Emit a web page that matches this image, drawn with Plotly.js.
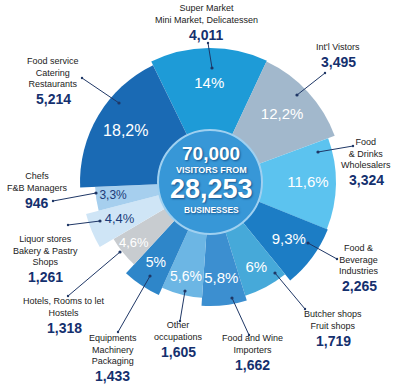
<!DOCTYPE html>
<html>
<head>
<meta charset="utf-8">
<script src="https://cdn.plot.ly/plotly-3.0.1.min.js"></script>
<style>html,body{margin:0;padding:0;background:#fff;}#chart{width:400px;height:392px;}</style>
</head>
<body>
<div id="chart"></div>
<script>
// ---- data (clockwise, starting at the Super Market slice) ----
var categories = ["Super Market<br>Mini Market, Delicatessen", "Int'l Vistors", "Food<br>& Drinks<br>Wholesalers",
  "Food &<br>Beverage<br>Industries", "Butcher shops<br>Fruit shops", "Food and Wine<br>Importers",
  "Other<br>occupations", "Equipments<br>Machinery<br>Packaging", "Hotels, Rooms to let<br>Hostels",
  "Liquor stores<br>Bakery & Pastry<br>Shops", "Chefs<br>F&B Managers", "Food service<br>Catering<br>Restaurants"];
var visitors = [4011, 3495, 3324, 2265, 1719, 1662, 1605, 1433, 1318, 1261, 946, 5214];
var visitorLabels = ["4,011", "3,495", "3,324", "2,265", "1,719", "1,662", "1,605", "1,433", "1,318", "1,261", "946", "5,214"];
var pctLabels = ["14%", "12,2%", "11,6%", "9,3%", "6%", "5,8%", "5,6%", "5%", "4,6%", "4,4%", "3,3%", "18,2%"];
var sliceRadius = [134, 133, 126, 127, 119, 124, 116, 124, 112, 128, 115, 130];
var centerTexts = ["70,000", "VISITORS FROM", "28,253", "BUSINESSES"];

// ---- styles ----
var colors = ["#1e9bd7", "#a2b8cc", "#5cc3ef", "#1c7dc5", "#46a9d9", "#3c8fd0", "#6cb6e4", "#2e86c9",
  "#c8ccd0", "#cfe5f6", "#a6cfee", "#1a6ab4"];
var pctColors = ["#fff","#fff","#fff","#fff","#fff","#fff","#fff","#fff","#fff","#1b3c7a","#1b3c7a","#fff"];
var pctSizes = [15, 15, 15, 15, 15, 15, 14, 14, 13, 13, 12, 16];
var NAVY = "#14306e";
var W = 400, H = 392;

var total = visitors.reduce(function (a, b) { return a + b; }, 0);
var widths = visitors.map(function (v) { return v / total * 360; });
var thetas = [], acc = 0;
widths.forEach(function (w) { thetas.push(acc + w / 2); acc += w; });

var traces = [];
traces.push({
  type: "barpolar", r: sliceRadius, theta: thetas, width: widths, base: 0,
  marker: { color: colors, line: { width: 0 } }, hoverinfo: "skip", showlegend: false
});
traces.push({
  type: "barpolar", r: [52], theta: [0], width: [360], base: 0,
  marker: { color: "#3797d7", line: { color: "#9fd0f0", width: 2 } }, hoverinfo: "skip", showlegend: false
});
traces.push({
  type: "scatterpolar", mode: "text", r: thetas.map(function () { return 98; }), theta: thetas,
  text: pctLabels, textposition: "middle center",
  textfont: { family: "Liberation Sans, Arial, sans-serif", size: pctSizes, color: pctColors },
  hoverinfo: "skip", showlegend: false
});

// label layout (pixel positions): name block x, number center y, leader line [x0,y0,x1,y1]
var labelPos = [
  { nx: 206, vy: 35, line: [208, 43, 212, 68] },
  { nx: 338, vy: 62, line: [325, 73, 297, 95] },
  { nx: 366, vy: 180, line: [353, 146, 318, 152] },
  { nx: 359, vy: 286, line: [337, 259, 308, 243] },
  { nx: 333, vy: 341, line: [305, 309, 275, 273] },
  { nx: 253, vy: 365, line: [249, 335, 232, 298] },
  { nx: 178, vy: 352, line: [180, 321, 185, 291] },
  { nx: 113, vy: 376, line: [118, 332, 150, 276] },
  { nx: 64, vy: 328, line: [68, 296, 120, 252] },
  { nx: 45, vy: 277, line: [68, 225, 100, 221] },
  { nx: 37, vy: 203, line: [53, 201, 96, 193] },
  { nx: 53, vy: 99, line: [82, 78, 119, 103] }
];
function px(x) { return x / W; }
function py(y) { return 1 - y / H; }

var annotations = [], shapes = [];
categories.forEach(function (c, i) {
  var p = labelPos[i];
  annotations.push({ xref: "paper", yref: "paper", x: px(p.nx), y: py(p.vy - 9), text: c, showarrow: false,
    xanchor: "center", yanchor: "bottom", align: "center", borderpad: 0,
    font: { family: "Liberation Sans, Arial, sans-serif", size: 9, color: "#222" } });
  annotations.push({ xref: "paper", yref: "paper", x: px(p.nx), y: py(p.vy), text: "<b>" + visitorLabels[i] + "</b>",
    showarrow: false, xanchor: "center", yanchor: "middle", borderpad: 0,
    font: { family: "Liberation Sans, Arial, sans-serif", size: 14, color: NAVY } });
  var l = p.line;
  shapes.push({ type: "line", xref: "paper", yref: "paper", x0: px(l[0]), y0: py(l[1]), x1: px(l[2]), y1: py(l[3]),
    line: { color: "#1f3766", width: 1 } });
  [[l[0], l[1], 1.2], [l[2], l[3], 1.6]].forEach(function (d) {
    shapes.push({ type: "circle", xref: "paper", yref: "paper", x0: px(d[0] - d[2]), x1: px(d[0] + d[2]),
      y0: py(d[1] + d[2]), y1: py(d[1] - d[2]), fillcolor: "#1f3766", line: { width: 0 } });
  });
});

var shadow = "1px 1px 2px rgba(0,40,90,0.6)";
var centerLayout = [[153, 19], [170, 9], [189, 27], [210, 8.5]];
centerTexts.forEach(function (t, i) {
  annotations.push({ xref: "paper", yref: "paper", x: px(211), y: py(centerLayout[i][0]), text: "<b>" + t + "</b>",
    showarrow: false, xanchor: "center", yanchor: "middle", borderpad: 0,
    font: { family: "Liberation Sans, Arial, sans-serif", size: centerLayout[i][1], color: "#fff", shadow: shadow } });
});

var layout = {
  width: W, height: H, margin: { l: 0, r: 0, t: 0, b: 0 },
  paper_bgcolor: "#fff", showlegend: false,
  polar: {
    domain: { x: [px(70), px(350)], y: [py(322), py(42)] },
    bgcolor: "rgba(0,0,0,0)", bargap: 0,
    radialaxis: { range: [0, 140], visible: false },
    angularaxis: { visible: false, direction: "clockwise", rotation: 116 }
  },
  annotations: annotations, shapes: shapes
};
Plotly.newPlot("chart", traces, layout, { staticPlot: true, displayModeBar: false });
</script>
</body>
</html>
